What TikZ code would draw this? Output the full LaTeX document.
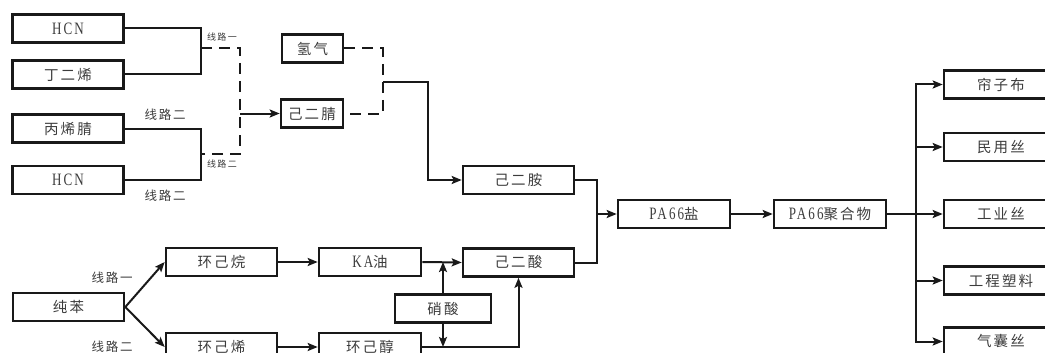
\documentclass[tikz,border=0pt]{standalone}
\usepackage{fontspec}
\setmainfont{Liberation Serif}[Scale=1.2,FakeStretch=0.75,LetterSpace=12]
\newfontfamily\cjk{Noto Sans CJK SC}[LetterSpace=14]
\newcommand{\zh}[1]{{\cjk #1}}
\usepackage{tikz}
\usetikzlibrary{arrows.meta,calc,positioning}
\definecolor{linea}{RGB}{25,25,25}
\definecolor{texto}{RGB}{60,60,60}
\tikzstyle{edge}  =[line width=2pt, draw=linea,
                    >={Stealth[length=10pt,width=8pt,inset=2pt]}]
\tikzstyle{dedge} =[edge, dash pattern=on 11pt off 7pt]
\tikzstyle{box}   =[rectangle, draw=linea, line width=2.6pt,
                    minimum width=111pt, minimum height=28pt,
                    inner sep=0pt, text=texto,
                    font=\fontsize{14.5pt}{14.5pt}\selectfont]
\tikzstyle{lbl}   =[text=texto, inner sep=0pt,
                    font=\fontsize{12.5pt}{12.5pt}\selectfont]
\tikzstyle{slbl}  =[text=texto, inner sep=0pt,
                    font=\fontsize{9pt}{9pt}\selectfont]

\begin{document}
\begin{tikzpicture}[x=1pt,y=-1pt]

        \useasboundingbox (0,0) rectangle (1045,353);
        \clip (0,0) rectangle (1045,353);

        % route to adiponitrile
        \draw (68,28.5) node(hcnA)[box]{HCN};
        \draw (68,74.5) node(ding)[box]{\zh{丁二烯}};
        \draw (68,128.5) node(bing)[box]{\zh{丙烯腈}};
        \draw (68,180) node(hcnB)[box]{HCN};
        \draw (312.5,48.5) node(qing)[box,minimum width=61pt]{\zh{氢气}};
        \draw (312,113.5) node(jej)[box,minimum width=62pt]{\zh{己二腈}};

        \coordinate (kA) at (201,48);
        \coordinate (kB) at (201,154);
        \coordinate (dA) at (240,48);
        \coordinate (dB) at (240,154);
        \coordinate (dM) at (240,113.5);
        \coordinate (dC) at (383,48.5);
        \coordinate (dD) at (383,113.5);
        \coordinate (sA) at (383,82);
        \coordinate (sB) at (428,82);

        \draw [edge] (hcnA.east) -| (kA) |- (ding.east);
        \draw [edge] (bing.east) -| (kB) |- (hcnB.east);
        \draw [dedge] (kA) -- (dA) -- (dB) -- (kB);
        \draw [edge,->] (dM) -- (jej.west);
        \draw [dedge] (qing.east) -- (dC) -- (dD) -- (jej.east);

        \draw (222,37) node(lA)[slbl]{\zh{线路一}};
        \draw (222,164) node(lB)[slbl]{\zh{线路二}};
        \draw (165,115) node(lC)[lbl]{\zh{线路二}};
        \draw (165,196) node(lD)[lbl]{\zh{线路二}};

        % route to adipic acid
        \draw (68.5,307) node(cb)[box]{\zh{纯苯}};
        \draw (221.5,262) node(hjw)[box]{\zh{环己烷}};
        \draw (221.5,347) node(hjx)[box]{\zh{环己烯}};
        \draw (370,262) node(ka)[box,minimum width=102pt]{KA\zh{油}};
        \draw (370,347) node(hjc)[box,minimum width=102pt]{\zh{环己醇}};
        \draw (443,308.5) node(xs)[box,minimum width=96pt]{\zh{硝酸}};

        \draw (112,278) node(lE)[lbl]{\zh{线路一}};
        \draw (112,347) node(lF)[lbl]{\zh{线路二}};

        \foreach \i/\j in {cb/hjw,cb/hjx,hjw/ka,hjx/hjc}
            \draw [edge,->] (\i.east) -- (\j.west);
        \draw [edge,->] (xs.north) -- (xs.north |- ka.east);
        \draw [edge,->] (xs.south) -- (xs.south |- hjc.east);

        % salt, polymer and uses
        \draw (518.5,180) node(ad)[box]{\zh{己二胺}};
        \draw (518.5,262.5) node(ac)[box]{\zh{己二酸}};
        \draw (674,214) node(salt)[box,minimum width=112pt]{PA66\zh{盐}};
        \draw (830,214) node(poly)[box,minimum width=112pt]{PA66\zh{聚合物}};

        \draw [edge,->] (ka.east) -- (ac.west);
        \draw [edge,->] (hjc.east) -| (ac.south);
        \draw [edge,->] (sA) -- (sB) |- (ad.west);

        \coordinate (pA) at (597,214);
        \coordinate (tA) at (916,214);
        \draw [edge] (ad.east) -| (pA) |- (ac.east);
        \draw [edge,->] (pA) -- (salt.west);
        \draw [edge,->] (salt) -- (poly);
        \draw [edge] (poly.east) -- (tA);

        \foreach \n/\y/\t in {lz/84.5/帘子布,my/147/民用丝,gy/214/工业丝,
        gc/280.5/工程塑料,qn/341.5/气囊丝}
            \draw (1001,\y) node(\n)[box,minimum width=114pt]{\zh{\t}};

        \foreach \n in {lz,my,gy,gc,qn}
            \draw [edge,->] (tA) |- (\n.west);

    \end{tikzpicture}
\end{document}
